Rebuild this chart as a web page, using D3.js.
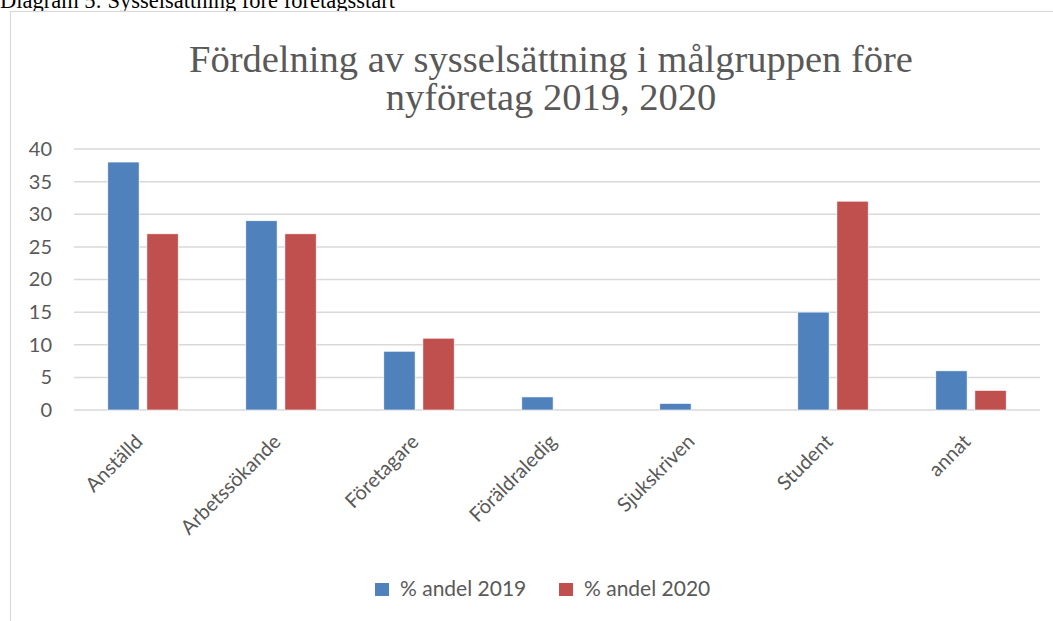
<!DOCTYPE html>
<html>
<head>
<meta charset="utf-8">
<script src="https://cdn.jsdelivr.net/npm/d3@7"></script>
<style>
  body { margin: 0; background: #fff; }
  svg { display: block; }
</style>
</head>
<body>
<script>
// chart data
var categories = ["Anställd", "Arbetssökande", "Företagare", "Föräldraledig", "Sjukskriven", "Student", "annat"];
var seriesNames = ["% andel 2019", "% andel 2020"];
var values2019 = [38, 29, 9, 2, 1, 15, 6];
var values2020 = [27, 27, 11, 0, 0, 32, 3];
var yTicks = [0, 5, 10, 15, 20, 25, 30, 35, 40];
var titleLines = ["Fördelning av sysselsättning i målgruppen före", "nyföretag 2019, 2020"];
var caption = "Diagram 5: Sysselsättning före företagsstart";

var colors = ["#4f81bd", "#c0504d"];
var W = 1053, H = 621;
var font = "Lato, 'Open Sans', sans-serif";
var serif = "'Liberation Serif', 'Times New Roman', serif";

var svg = d3.select("body").append("svg")
    .attr("width", W)
    .attr("height", H);

// caption above the frame (descenders hidden behind the chart area)
svg.append("text")
    .attr("x", 0).attr("y", 8)
    .style("font-family", serif)
    .style("font-size", "22.5px")
    .style("fill", "#000")
    .text(caption);

// chart frame
svg.append("rect")
    .attr("x", 10.5).attr("y", 11.5)
    .attr("width", W + 20).attr("height", H + 20)
    .style("fill", "#fff")
    .style("stroke", "#d9d9d9")
    .style("stroke-width", 1.2);

// title
svg.append("g").selectAll("text")
  .data(titleLines)
  .enter().append("text")
    .attr("x", 551)
    .attr("y", function(d, i) { return 72 + i * 38; })
    .attr("text-anchor", "middle")
    .style("font-family", serif)
    .style("font-size", "38.5px")
    .style("fill", "#595959")
    .text(function(d) { return d; });

var margin = {left: 74, right: 13, top: 149, bottom: 211},
    width = W - margin.left - margin.right,
    height = H - margin.top - margin.bottom;

var g = svg.append("g")
    .attr("transform", "translate(" + margin.left + "," + margin.top + ")");

var x = d3.scaleBand().domain(categories).range([0, width]).paddingInner(0.49).paddingOuter(0.245);
var xs = d3.scaleBand().domain([0, 1]).range([0, x.bandwidth()]).paddingInner(0.2);
var y = d3.scaleLinear().domain([0, 40]).range([height, 0]);

// gridlines
g.selectAll(".grid")
  .data(yTicks)
  .enter().append("line")
    .attr("class", "grid")
    .attr("x1", 0).attr("x2", width)
    .attr("y1", function(d) { return y(d); })
    .attr("y2", function(d) { return y(d); })
    .style("stroke", "#d9d9d9")
    .style("stroke-width", 1.5);

// y axis labels
var yAxis = g.append("g")
    .call(d3.axisLeft(y).tickValues(yTicks).tickSize(0).tickPadding(22));
yAxis.select(".domain").remove();
yAxis.selectAll("text")
    .style("font-family", font)
    .style("font-size", "20px")
    .style("fill", "#595959");

// bars
var series = [values2019, values2020];
var grp = g.selectAll(".cat")
  .data(categories)
  .enter().append("g")
    .attr("class", "cat")
    .attr("transform", function(d) { return "translate(" + x(d) + ",0)"; });

grp.selectAll("rect")
  .data(function(d, i) { return series.map(function(s, k) { return {k: k, v: s[i]}; }); })
  .enter().append("rect")
    .filter(function(d) { return d.v > 0; })
    .attr("x", function(d) { return xs(d.k); })
    .attr("y", function(d) { return y(d.v); })
    .attr("width", xs.bandwidth())
    .attr("height", function(d) { return height - y(d.v); })
    .style("fill", function(d) { return colors[d.k]; })
    .style("stroke", "#fff")
    .style("stroke-width", 0.6);

// x axis labels
var xAxis = g.append("g")
    .attr("transform", "translate(0," + height + ")")
    .call(d3.axisBottom(x).tickSize(0).tickPadding(0));
xAxis.select(".domain").remove();
xAxis.selectAll("text")
    .attr("text-anchor", "end")
    .attr("dy", "0.35em")
    .attr("transform", "translate(-4,28) rotate(-45)")
    .style("font-family", font)
    .style("font-size", "20px")
    .style("fill", "#595959");

// legend
var legend = svg.append("g").selectAll(".leg")
  .data(seriesNames)
  .enter().append("g")
    .attr("class", "leg")
    .attr("transform", function(d, i) { return "translate(" + (375 + i * 184) + ",583)"; });
legend.append("rect")
    .attr("width", 14).attr("height", 13)
    .style("fill", function(d, i) { return colors[i]; });
legend.append("text")
    .attr("x", 25).attr("y", 13)
    .style("font-family", font)
    .style("font-size", "21px")
    .style("fill", "#595959")
    .text(function(d) { return d; });
</script>
</body>
</html>
